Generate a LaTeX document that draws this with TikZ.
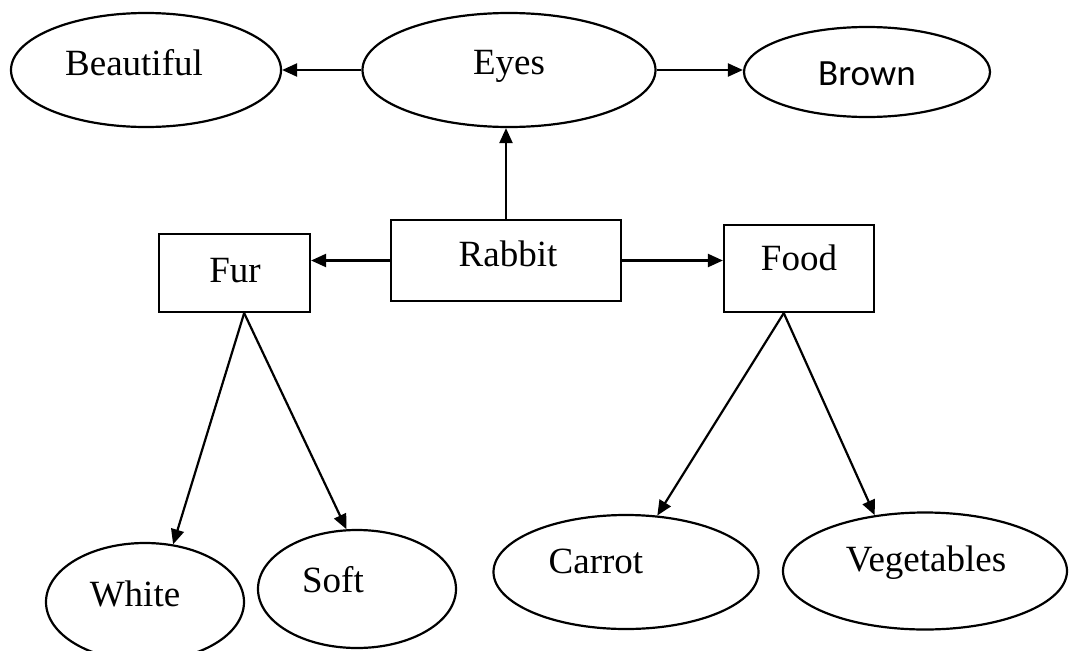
\documentclass[tikz,border=0pt]{standalone}
\usepackage{fontspec}
\setmainfont{Liberation Serif}
\newfontfamily\calibfont{Carlito}
\usetikzlibrary{shapes.geometric,arrows.meta,calc}
\begin{document}
\begin{tikzpicture}[x=1pt,y=-1pt,
  oval/.style={draw,ellipse,line width=2.2pt,inner sep=0pt},
  box/.style={draw,rectangle,line width=2.2pt,inner sep=0pt},
  lbl/.style={anchor=base,inner sep=0pt,font=\fontsize{37}{44}\selectfont},
  arr/.style={line width=2.2pt,-{Triangle[length=15pt,width=13pt]}}]
\useasboundingbox (0,0) rectangle (1069,651);
% shapes
\node[oval,minimum width=270pt,minimum height=114pt] (beautiful) at (146,70) {};
\node[oval,minimum width=293pt,minimum height=114pt] (eyes) at (509,70) {};
\node[oval,minimum width=246pt,minimum height=90pt] (brown) at (867,72) {};
\node[box,minimum width=230pt,minimum height=81pt] (rabbit) at (506,260.5) {};
\node[box,minimum width=151pt,minimum height=78pt] (fur) at (234.5,273) {};
\node[box,minimum width=150pt,minimum height=87pt] (food) at (799,268.5) {};
\node[oval,minimum width=198pt,minimum height=118pt] (white) at (145,602) {};
\node[oval,minimum width=198pt,minimum height=118pt] (soft) at (357,589) {};
\node[oval,minimum width=265pt,minimum height=114pt] (carrot) at (626,572) {};
\node[oval,minimum width=284pt,minimum height=117pt] (veg) at (925,571) {};
% labels
\node[lbl] (tbeautiful) at (134,75) {Beautiful};
\node[lbl] (teyes) at (509,74) {Eyes};
\node[lbl,font=\fontsize{37}{44}\calibfont] (tbrown) at (867,85) {Brown};
\node[lbl] (trabbit) at (508,266) {Rabbit};
\node[lbl] (tfur) at (235,282) {Fur};
\node[lbl] (tfood) at (799,270) {Food};
\node[lbl] (twhite) at (135,606) {White};
\node[lbl] (tsoft) at (333,592) {Soft};
\node[lbl] (tcarrot) at (596,573) {Carrot};
\node[lbl] (tveg) at (926,571) {Vegetables};
% connector start points
\coordinate (furb) at ($(fur.south west)!0.563!(fur.south east)$);
\coordinate (foodb) at ($(food.south west)!0.4!(food.south east)$);
% connectors
\draw[arr] (eyes.west) -- (beautiful.east);
\draw[arr] (eyes.east) -- (brown.west |- eyes.east);
\draw[arr] (rabbit.north) -- (rabbit.north |- eyes.south);
\draw[arr] (rabbit.west) -- (rabbit.west -| fur.east);
\draw[arr] (rabbit.east) -- (rabbit.east -| food.west);
\draw[arr] (furb) -- (white.64);
\draw[arr] (furb) -- (soft.100);
\draw[arr] (foodb) -- (carrot.61);
\draw[arr] (foodb) -- (veg.132);
\end{tikzpicture}
\end{document}
